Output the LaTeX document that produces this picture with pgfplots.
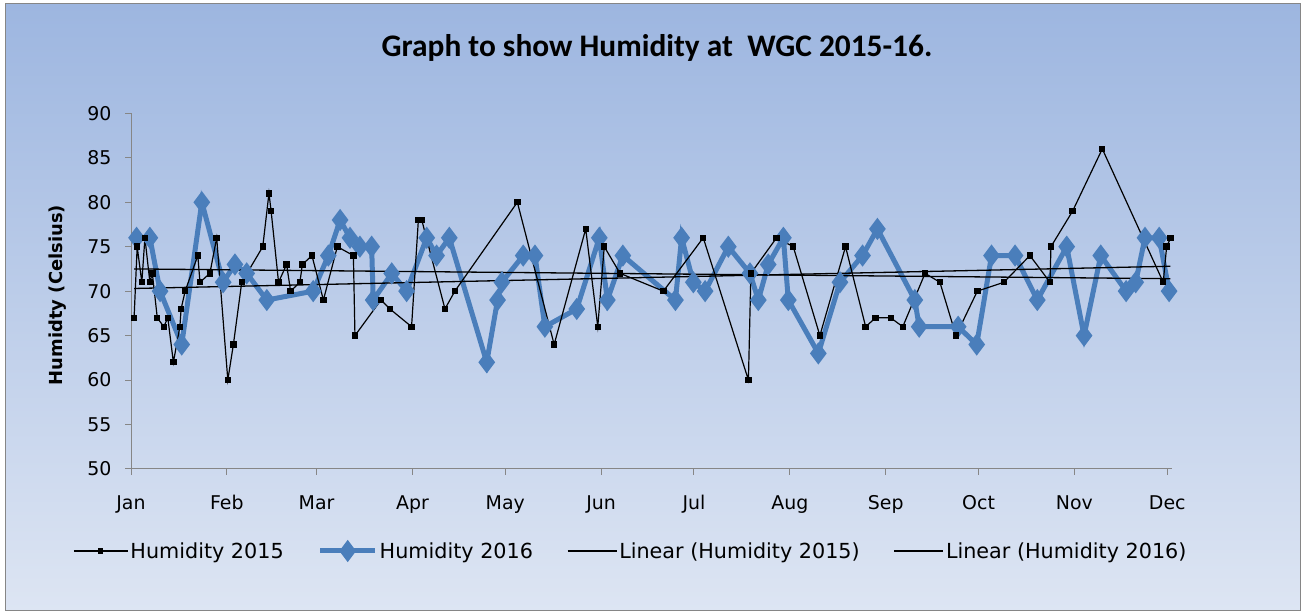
\documentclass[border=0pt]{standalone}
\usepackage{pgfplots}
\pgfplotsset{compat=1.18}
\usepackage{fontspec}
\setmainfont{DejaVu Sans}
\newfontfamily\titlefont{Carlito}
\definecolor{bgtop}{HTML}{9DB6E0}
\definecolor{bgbot}{HTML}{DDE5F3}
\definecolor{blue16}{HTML}{4A7EBB}
\definecolor{axgray}{HTML}{868686}
\pgfplotsset{
  legA/.style={legend image code/.code={\draw[mark repeat=2,mark phase=2,##1] plot coordinates {(0bp,0bp) (27bp,0bp) (54bp,0bp)};}},
  legB/.style={legend image code/.code={\draw[mark repeat=2,mark phase=2,##1] plot coordinates {(0bp,0bp) (27.5bp,0bp) (55bp,0bp)};}},
  legC/.style={legend image code/.code={\draw[##1] (0bp,0bp) -- (49bp,0bp);}},
}
\begin{document}
\begin{tikzpicture}
\useasboundingbox (0,0) rectangle (1305bp,614bp);
\fill[white] (0,0) rectangle (1305bp,614bp);
\shadedraw[top color=bgtop,bottom color=bgbot,draw=axgray,line width=1bp] (5bp,3bp) rectangle (1300bp,610bp);
\node[font=\titlefont\bfseries\fontsize{31.5}{35}\selectfont, anchor=base] at (657bp,557bp) {Graph to show Humidity at\ \ WGC 2015-16.};
\begin{axis}[
  at={(131bp,145bp)}, anchor=south west,
  scale only axis, width=1040.9bp, height=355.7bp,
  xmin=0, xmax=336.5, ymin=50, ymax=90,
  axis x line=bottom, axis y line=left,
  axis line style={-, draw=axgray, line width=1bp},
  xtick={0,31,60,91,121,152,182,213,244,274,305,335},
  xticklabels={Jan,Feb,Mar,Apr,May,Jun,Jul,Aug,Sep,Oct,Nov,Dec},
  ytick={50,55,...,90},
  tick align=outside, major tick length=6bp,
  tick style={axgray, line width=1bp},
  every tick label/.append style={font=\fontsize{19}{22}\selectfont, text=black},
  xticklabel style={yshift=-17bp},
  yticklabel style={xshift=-10bp},
  /pgf/number format/assume math mode=true,
  ylabel={Humidty (Celsius)},
  ylabel style={at={(axis description cs:-0.0701,0.489)}, anchor=center, font=\bfseries\fontsize{18}{20}\selectfont},
  clip=false,
  legend columns=4,
  legend style={at={(axis description cs:-0.0557,-0.2305)}, anchor=west, draw=none, fill=none, inner sep=0pt,
    font=\fontsize{20.8}{23}\selectfont, nodes={inner xsep=2bp, inner ysep=0bp},
    /tikz/every even column/.append style={column sep=32bp}},
]
\addlegendimage{black, line width=1.2bp, mark=square*, mark size=2bp, legA}
\addlegendentry{Humidity 2015}
\addlegendimage{blue16, line width=5bp, mark=diamond*, mark size=7bp, legB}
\addlegendentry{Humidity 2016}
\addlegendimage{black, line width=1.3bp, legC}
\addlegendentry{Linear (Humidity 2015)}
\addlegendimage{black, line width=1.3bp, legC}
\addlegendentry{Linear (Humidity 2016)}

% Humidity 2016
\addplot[forget plot, blue16, line width=5bp, mark=diamond*, mark size=7bp, mark options={solid, fill=blue16}] coordinates {
(1.8,76) (6.1,76) (9.4,70) (16.4,64) (22.9,80) (29.8,71) (33.6,73) (37.4,72) (43.9,69) (58.9,70)
(63.8,74) (67.6,78) (70.8,76) (74.0,75) (77.8,75) (78.3,69) (84.3,72) (89.1,70) (95.6,76) (98.8,74)
(102.9,76) (115.0,62) (118.5,69) (119.9,71) (126.8,74) (130.6,74) (133.8,66) (144.1,68) (151.4,76) (154.0,69)
(159.0,74) (176.0,69) (178.0,76) (181.8,71) (185.6,70) (193.1,75) (200.1,72) (202.8,69) (206.0,73) (210.9,76)
(212.5,69) (222.2,63) (229.2,71) (236.5,74) (241.3,77) (253.4,69) (254.8,66) (267.4,66) (273.4,64) (278.2,74)
(285.8,74) (293.0,69) (302.5,75) (308.1,65) (313.5,74) (321.7,70) (324.8,71) (327.8,76) (332.4,76) (335.6,70)
};
% Humidity 2015
\addplot[forget plot, black, line width=1.2bp, mark=square*, mark size=2.6bp] coordinates {
(1,67) (2,75) (3.5,71) (4.5,76) (6.1,71) (6.9,72) (8.5,67) (10.6,66) (11.9,67) (13.7,62)
(15.8,66) (16.2,68) (17.5,70) (21.6,74) (22.3,71) (25.5,72) (27.7,76) (31.3,60) (33.1,64) (35.8,71)
(42.6,75) (44.6,81) (45.3,79) (47.7,71) (50.3,73) (51.6,70) (54.6,71) (55.4,73) (58.5,74) (62.2,69)
(66.7,75) (71.9,74) (72.4,65) (80.8,69) (83.7,68) (90.7,66) (92.9,78) (94,78) (101.5,68) (104.7,70)
(124.9,80) (136.8,64) (147,77) (150.9,66) (153,75) (158.1,72) (172.1,70) (185,76) (199.6,60) (200.4,72)
(208.7,76) (214.1,75) (222.7,65) (231,75) (237.5,66) (240.7,67) (245.6,67) (249.5,66) (256.7,72) (261.5,71)
(266.7,65) (273.6,70) (282.2,71) (290.6,74) (297.1,71) (297.4,75) (304.4,79) (314,86) (333.7,71) (334.8,75)
(336.1,76)
};
% Linear trends
\addplot[forget plot, black, line width=1.3bp] coordinates {(1,70.3) (336,72.8)};
\addplot[forget plot, black, line width=1.3bp] coordinates {(1,72.5) (336,71.4)};
\end{axis}
\end{tikzpicture}
\end{document}
